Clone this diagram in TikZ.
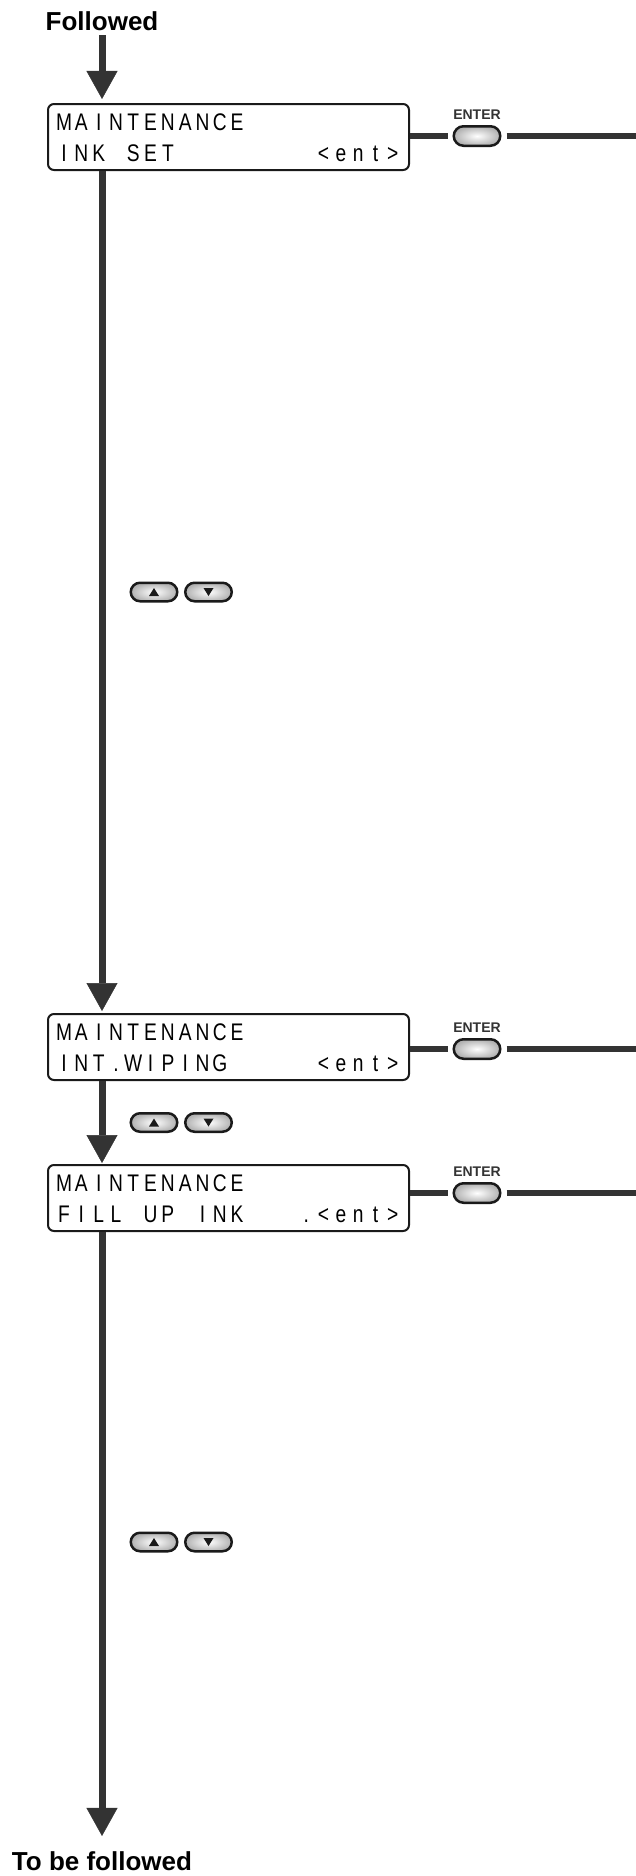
\documentclass[tikz,border=0pt]{standalone}
\usepackage{fontspec}
\setmainfont{Liberation Sans}
\newfontfamily\lcdfont[FakeStretch=0.8]{Liberation Sans}
\usepackage{xcolor}
\usepackage{tikz}
\usetikzlibrary{arrows.meta, positioning, calc}
\definecolor{flow}{HTML}{333333}
\definecolor{frame}{HTML}{1A1A1A}
\definecolor{keyface}{HTML}{B2B2B2}
\newlength{\lcdcell}
\setlength{\lcdcell}{17.3pt}
% one LCD character per cell
\newcommand{\lcd}[1]{\foreach \ch in {#1}{\makebox[\lcdcell]{\ch}}}
\tikzset{
    title/.style={font=\bfseries\fontsize{26}{30}\selectfont, inner sep=0pt},
    lcdbox/.style={rectangle, rounded corners=6pt, draw=frame, line width=2pt,
                   minimum width=361pt, minimum height=66pt, inner sep=0pt},
    lcdline/.style={anchor=base west, inner sep=0pt,
                    font=\lcdfont\fontsize{24}{28}\selectfont},
    keybtn/.style={rectangle, rounded corners=9.25pt, draw=frame, line width=2.5pt,
                   minimum width=46.5pt, minimum height=18.5pt, inner sep=0pt,
                   inner color=white, outer color=keyface},
    enterkey/.style={keybtn, minimum height=19.5pt, rounded corners=9.75pt},
    keylabel/.style={font=\bfseries\fontsize{14}{16}\selectfont, text=flow, inner sep=0pt},
    flowarr/.style={draw=flow, line width=7pt,
                    -{Triangle[width=31pt, length=28pt, line width=0.5pt]}},
    link/.style={draw=flow, line width=6pt},
}
\begin{document}
\begin{tikzpicture}[x=1pt, y=-1pt]
  \useasboundingbox (0,0) rectangle (636,1876);
  \coordinate (spine) at (102,0);
  \coordinate (rim) at (636,0);

  \node[title, anchor=base] (followed) at (102,31) {Followed};
  \node[title, anchor=base] (tofollow) at (102,1870) {To be followed};

  % menu displays
  \node[lcdbox] (inkset) at (228.5,137) {};
  \node[lcdline] (inkset-top) at ($(inkset.north west)+(8.25,27)$) {\lcd{M,A,I,N,T,E,N,A,N,C,E}};
  \node[lcdline] (inkset-bot) at ($(inkset.north west)+(8.25,58)$) {\lcd{I,N,K,,S,E,T,,,,,,,,,<,e,n,t,>}};

  \node[lcdbox] (wiping) at (228.5,1047) {};
  \node[lcdline] (wiping-top) at ($(wiping.north west)+(8.25,27)$) {\lcd{M,A,I,N,T,E,N,A,N,C,E}};
  \node[lcdline] (wiping-bot) at ($(wiping.north west)+(8.25,58)$) {\lcd{I,N,T,.,W,I,P,I,N,G,,,,,,<,e,n,t,>}};

  \node[lcdbox] (fillup) at (228.5,1198) {};
  \node[lcdline] (fillup-top) at ($(fillup.north west)+(8.25,27)$) {\lcd{M,A,I,N,T,E,N,A,N,C,E}};
  \node[lcdline] (fillup-bot) at ($(fillup.north west)+(8.25,58)$) {\lcd{F,I,L,L,,U,P,,I,N,K,,,,.,<,e,n,t,>}};

  % main flow
  \draw[flowarr, shorten <=4pt, shorten >=4pt] (followed.south) -- (inkset.north -| spine);
  \draw[flowarr, shorten >=2pt] (inkset.south -| spine) -- (wiping.north -| spine);
  \draw[flowarr, shorten >=1pt] (wiping.south -| spine) -- (fillup.north -| spine);
  \draw[flowarr, shorten >=15pt] (fillup.south -| spine) -- (tofollow.north);

  % ENTER keys
  \foreach \m/\y in {inkset/136, wiping/1049, fillup/1193} {
    \node[enterkey] (\m-enter) at (477,\y) {};
    \node[keylabel, above=5pt of \m-enter] (\m-label) {ENTER};
    \draw[link, shorten >=5pt] (\m.east |- \m-enter) -- (\m-enter.west);
    \draw[link, shorten <=5pt] (\m-enter.east) -- (\m-enter -| rim);
  }

  % up / down keys
  \foreach \y [count=\n] in {592,1122.5,1542} {
    \node[keybtn] (up\n) at (154,\y) {};
    \node[keybtn, right=5.5pt of up\n] (down\n) {};
    \fill[frame] ($(up\n)+(-5,4)$) -- ($(up\n)+(5,4)$) -- ($(up\n)+(0,-4)$) -- cycle;
    \fill[frame] ($(down\n)+(-5,-4)$) -- ($(down\n)+(5,-4)$) -- ($(down\n)+(0,4)$) -- cycle;
  }
\end{tikzpicture}
\end{document}
